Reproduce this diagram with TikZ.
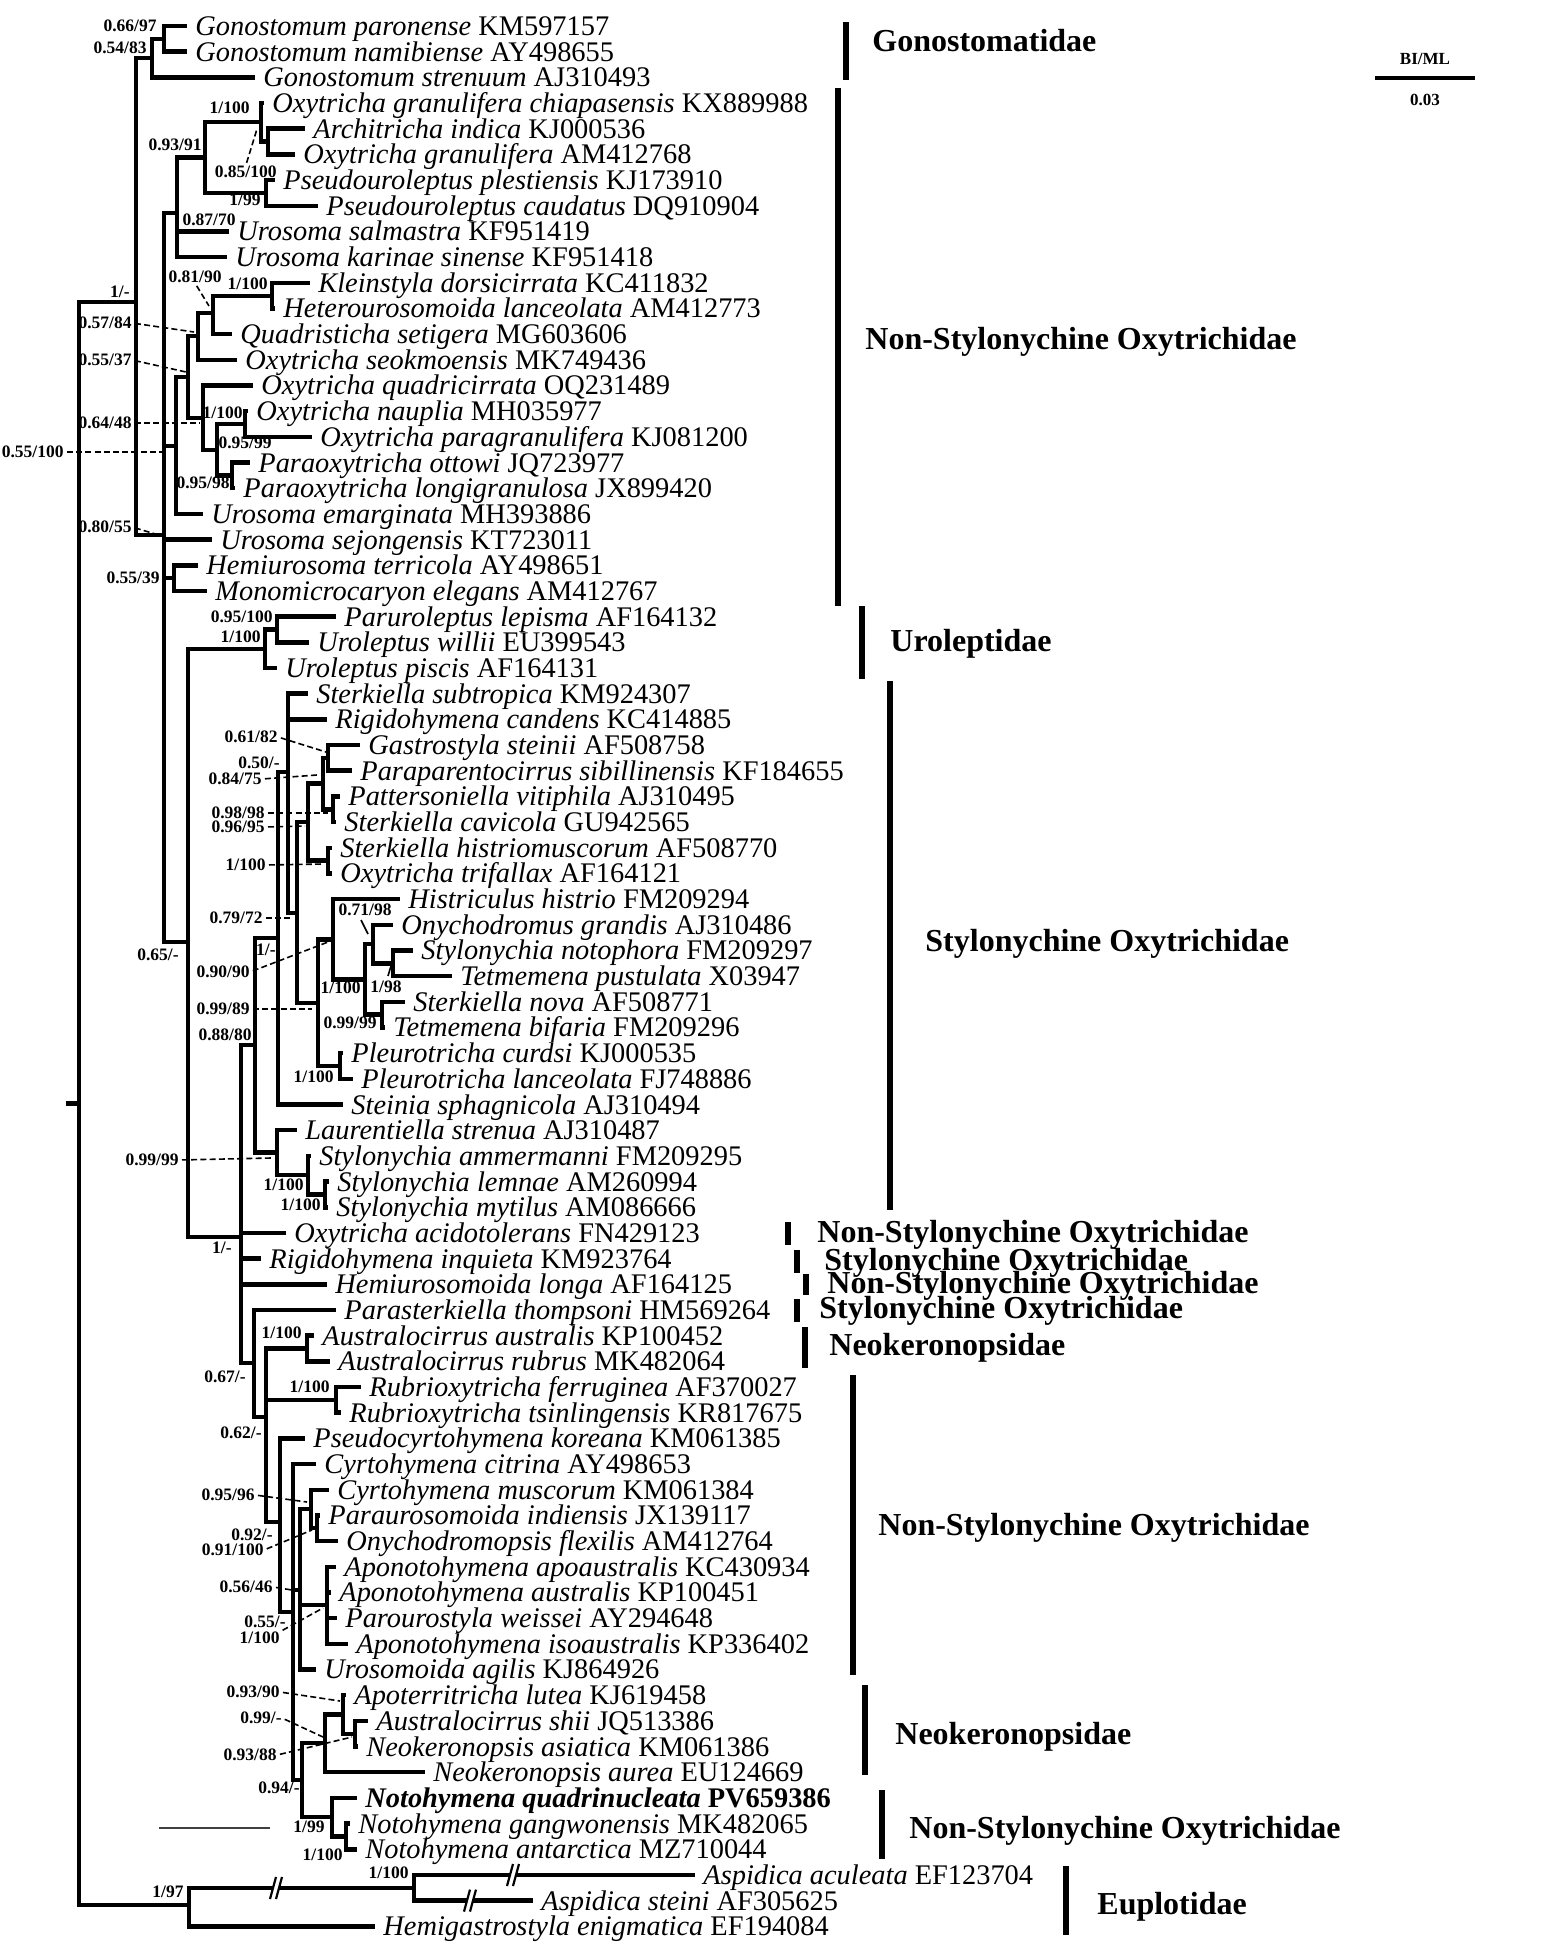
\documentclass[tikz,border=0pt]{standalone}
\usepackage{fontspec}
\setmainfont{Liberation Serif}
\tikzset{
  br/.style={line width=2.25pt},
  leaflab/.style={anchor=west, inner xsep=4pt, inner ysep=0pt, text height=9.4pt, text depth=0pt, font=\fontsize{14.2}{14.2}\selectfont},
  bs/.style={anchor=east, inner sep=0pt, text height=5.9pt, text depth=0pt, font=\fontsize{8.75}{9}\selectfont\bfseries},
  lead/.style={line width=0.8pt, dash pattern=on 3pt off 1.6pt, shorten <=1.5pt},
  tick/.style={line width=0.8pt},
  clbar/.style={line width=2.6pt},
  cllab/.style={anchor=west, inner sep=0pt, text height=10.6pt, text depth=0pt, font=\fontsize{16}{16}\selectfont\bfseries},
  sclab/.style={inner sep=0pt, font=\fontsize{8.5}{9}\selectfont\bfseries},
}
\newcommand\lfx[5]{\coordinate (#1) at (#2,#3); \node[leaflab] (#1L) at (#1) {\textit{#4} #5};}
\newcommand\brx[2]{\draw[br] (#1) |- (#2);}
\newcommand\brk[2]{%
  \fill[white] (#1-7,#2+11) -- (#1-1,#2-11) -- (#1+5,#2-11) -- (#1-1,#2+11) -- cycle;
  \draw[line width=1.1pt] (#1-7,#2+11) -- (#1-1,#2-11);
  \draw[line width=1.1pt] (#1-1,#2+11) -- (#1+5,#2-11);}
\begin{document}
\begin{tikzpicture}[x=0.5pt,y=-0.5pt]
\fill[white] (0,0) rectangle (1551,1959);
\useasboundingbox (0,0) rectangle (1551,1959);
% ---------- leaves ----------
\lfx{t1}{187}{26}{Gonostomum paronense}{KM597157}
\lfx{t2}{187}{51.7}{Gonostomum namibiense}{AY498655}
\lfx{t3}{255}{77.4}{Gonostomum strenuum}{AJ310493}
\lfx{t4}{264}{103}{Oxytricha granulifera chiapasensis}{KX889988}
\lfx{t5}{305}{128.7}{Architricha indica}{KJ000536}
\lfx{t6}{295}{154.4}{Oxytricha granulifera}{AM412768}
\lfx{t7}{275}{180.1}{Pseudouroleptus plestiensis}{KJ173910}
\lfx{t8}{318}{205.8}{Pseudouroleptus caudatus}{DQ910904}
\lfx{t9}{229}{231.4}{Urosoma salmastra}{KF951419}
\lfx{t10}{227}{257.1}{Urosoma karinae sinense}{KF951418}
\lfx{t11}{310}{282.8}{Kleinstyla dorsicirrata}{KC411832}
\lfx{t12}{275}{308.5}{Heterourosomoida lanceolata}{AM412773}
\lfx{t13}{232}{334.2}{Quadristicha setigera}{MG603606}
\lfx{t14}{237}{359.8}{Oxytricha seokmoensis}{MK749436}
\lfx{t15}{253}{385.5}{Oxytricha quadricirrata}{OQ231489}
\lfx{t16}{248}{411.2}{Oxytricha nauplia}{MH035977}
\lfx{t17}{312}{436.9}{Oxytricha paragranulifera}{KJ081200}
\lfx{t18}{250}{462.6}{Paraoxytricha ottowi}{JQ723977}
\lfx{t19}{235}{488.2}{Paraoxytricha longigranulosa}{JX899420}
\lfx{t20}{203}{513.9}{Urosoma emarginata}{MH393886}
\lfx{t21}{212}{539.6}{Urosoma sejongensis}{KT723011}
\lfx{t22}{198}{565.3}{Hemiurosoma terricola}{AY498651}
\lfx{t23}{207}{591}{Monomicrocaryon elegans}{AM412767}
\lfx{t24}{336}{616.6}{Paruroleptus lepisma}{AF164132}
\lfx{t25}{309}{642.3}{Uroleptus willii}{EU399543}
\lfx{t26}{277}{668}{Uroleptus piscis}{AF164131}
\lfx{t27}{308}{693.7}{Sterkiella subtropica}{KM924307}
\lfx{t28}{327}{719.4}{Rigidohymena candens}{KC414885}
\lfx{t29}{360}{745}{Gastrostyla steinii}{AF508758}
\lfx{t30}{352}{770.7}{Paraparentocirrus sibillinensis}{KF184655}
\lfx{t31}{340}{796.4}{Pattersoniella vitiphila}{AJ310495}
\lfx{t32}{336}{822.1}{Sterkiella cavicola}{GU942565}
\lfx{t33}{332}{847.8}{Sterkiella histriomuscorum}{AF508770}
\lfx{t34}{332}{873.4}{Oxytricha trifallax}{AF164121}
\lfx{t35}{400}{899.1}{Histriculus histrio}{FM209294}
\lfx{t36}{393}{924.8}{Onychodromus grandis}{AJ310486}
\lfx{t37}{413}{950.5}{Stylonychia notophora}{FM209297}
\lfx{t38}{452}{976.2}{Tetmemena pustulata}{X03947}
\lfx{t39}{405}{1001.8}{Sterkiella nova}{AF508771}
\lfx{t40}{385}{1027.5}{Tetmemena bifaria}{FM209296}
\lfx{t41}{343}{1053.2}{Pleurotricha curdsi}{KJ000535}
\lfx{t42}{353}{1078.9}{Pleurotricha lanceolata}{FJ748886}
\lfx{t43}{343}{1104.6}{Steinia sphagnicola}{AJ310494}
\lfx{t44}{297}{1130.2}{Laurentiella strenua}{AJ310487}
\lfx{t45}{311}{1155.9}{Stylonychia ammermanni}{FM209295}
\lfx{t46}{329}{1181.6}{Stylonychia lemnae}{AM260994}
\lfx{t47}{328}{1207.3}{Stylonychia mytilus}{AM086666}
\lfx{t48}{286}{1233}{Oxytricha acidotolerans}{FN429123}
\lfx{t49}{261}{1258.6}{Rigidohymena inquieta}{KM923764}
\lfx{t50}{327}{1284.3}{Hemiurosomoida longa}{AF164125}
\lfx{t51}{336}{1310}{Parasterkiella thompsoni}{HM569264}
\lfx{t52}{314}{1335.7}{Australocirrus australis}{KP100452}
\lfx{t53}{330}{1361.4}{Australocirrus rubrus}{MK482064}
\lfx{t54}{361}{1387}{Rubrioxytricha ferruginea}{AF370027}
\lfx{t55}{341}{1412.7}{Rubrioxytricha tsinlingensis}{KR817675}
\lfx{t56}{305}{1438.4}{Pseudocyrtohymena koreana}{KM061385}
\lfx{t57}{316}{1464.1}{Cyrtohymena citrina}{AY498653}
\lfx{t58}{329}{1489.8}{Cyrtohymena muscorum}{KM061384}
\lfx{t59}{320}{1515.4}{Paraurosomoida indiensis}{JX139117}
\lfx{t60}{338}{1541.1}{Onychodromopsis flexilis}{AM412764}
\lfx{t61}{336}{1566.8}{Aponotohymena apoaustralis}{KC430934}
\lfx{t62}{331}{1592.5}{Aponotohymena australis}{KP100451}
\lfx{t63}{337}{1618.2}{Parourostyla weissei}{AY294648}
\lfx{t64}{348}{1643.8}{Aponotohymena isoaustralis}{KP336402}
\lfx{t65}{316}{1669.5}{Urosomoida agilis}{KJ864926}
\lfx{t66}{346}{1695.2}{Apoterritricha lutea}{KJ619458}
\lfx{t67}{368}{1720.9}{Australocirrus shii}{JQ513386}
\lfx{t68}{358}{1746.6}{Neokeronopsis asiatica}{KM061386}
\lfx{t69}{425}{1772.2}{Neokeronopsis aurea}{EU124669}
\coordinate (t70) at (357,1797.9);
\node[leaflab] (t70L) at (t70) {\bfseries\itshape Notohymena quadrinucleata \upshape PV659386};
\lfx{t71}{350}{1823.6}{Notohymena gangwonensis}{MK482065}
\lfx{t72}{357}{1849.3}{Notohymena antarctica}{MZ710044}
\lfx{t73}{695}{1875}{Aspidica aculeata}{EF123704}
\lfx{t74}{533}{1900.6}{Aspidica steini}{AF305625}
\lfx{t75}{375}{1926.3}{Hemigastrostyla enigmatica}{EF194084}
% ---------- internal nodes ----------
\coordinate (rs) at (66,1103.5);
\coordinate (R0) at (79,1103.5);
\coordinate (I1) at (136,302);
\coordinate (G123) at (152,58);
\coordinate (G12) at (164,39);
\coordinate (H) at (164,535);
\coordinate (G) at (177,213);
\coordinate (F) at (205,157.5);
\coordinate (n4) at (261,122);
\coordinate (n56) at (268,141.5);
\coordinate (n78) at (266,193);
\coordinate (A) at (176,446);
\coordinate (B) at (188,377);
\coordinate (C) at (198,336);
\coordinate (D) at (213,313);
\coordinate (E) at (272,296);
\coordinate (X15) at (203,418);
\coordinate (n9599) at (217,450);
\coordinate (n16) at (245,424);
\coordinate (n9598) at (232,475.4);
\coordinate (N039) at (174,578);
\coordinate (L) at (188,942);
\coordinate (UR) at (265,649);
\coordinate (U95) at (277,629.5);
\coordinate (M) at (241,1237);
\coordinate (N) at (255,1045);
\coordinate (nb) at (278,938);
\coordinate (na) at (288,772);
\coordinate (nc) at (297,913);
\coordinate (nd) at (308,822);
\coordinate (ne) at (323,783.6);
\coordinate (ng) at (328,757.9);
\coordinate (nh) at (333,809.3);
\coordinate (nf) at (328,860.6);
\coordinate (nz) at (318,1003);
\coordinate (nep) at (333,939.6);
\coordinate (neta) at (340,1066);
\coordinate (nde) at (365,979.5);
\coordinate (nbe) at (373,944);
\coordinate (nal) at (393,963.3);
\coordinate (nga) at (382,1014.7);
\coordinate (nio) at (277,1152.6);
\coordinate (nka) at (308,1175);
\coordinate (nla) at (325,1194.5);
\coordinate (P) at (254,1363);
\coordinate (Q) at (266,1417);
\coordinate (Au) at (307,1348.5);
\coordinate (Ru) at (336,1400);
\coordinate (R) at (280,1522);
\coordinate (S) at (293,1612);
\coordinate (U) at (300,1590);
\coordinate (W) at (311,1509);
\coordinate (W2) at (317,1528);
\coordinate (V) at (327,1605);
\coordinate (T) at (302,1780);
\coordinate (X) at (325,1743);
\coordinate (Y) at (343,1714.5);
\coordinate (Z) at (355,1733.8);
\coordinate (NO) at (332,1817);
\coordinate (NO2) at (346,1836.5);
\coordinate (EU) at (189,1905);
\coordinate (AS) at (414,1888);
% ---------- branches ----------
\draw[br] (rs) -- (R0);
\brx{R0}{I1} \brx{R0}{EU}
\brx{I1}{G123} \brx{I1}{H}
\brx{G123}{G12} \brx{G123}{t3}
\brx{G12}{t1} \brx{G12}{t2}
\brx{H}{G} \brx{H}{A} \brx{H}{t21} \brx{H}{N039} \brx{H}{L}
\brx{G}{F} \brx{G}{t9} \brx{G}{t10}
\brx{F}{n4} \brx{F}{n78}
\brx{n4}{t4} \brx{n4}{n56}
\brx{n56}{t5} \brx{n56}{t6}
\brx{n78}{t7} \brx{n78}{t8}
\brx{A}{B} \brx{A}{t20}
\brx{B}{C} \brx{B}{X15}
\brx{C}{D} \brx{C}{t14}
\brx{D}{E} \brx{D}{t13}
\brx{E}{t11} \brx{E}{t12}
\brx{X15}{t15} \brx{X15}{n9599}
\brx{n9599}{n16} \brx{n9599}{n9598}
\brx{n16}{t16} \brx{n16}{t17}
\brx{n9598}{t18} \brx{n9598}{t19}
\brx{N039}{t22} \brx{N039}{t23}
\brx{L}{UR} \brx{L}{M}
\brx{UR}{U95} \brx{UR}{t26}
\brx{U95}{t24} \brx{U95}{t25}
\brx{M}{N} \brx{M}{t48} \brx{M}{t49} \brx{M}{t50} \brx{M}{P}
\brx{N}{nb} \brx{N}{nio}
\brx{nb}{na} \brx{nb}{t43}
\brx{na}{t27} \brx{na}{t28} \brx{na}{nc}
\brx{nc}{nd} \brx{nc}{nz}
\brx{nd}{ne} \brx{nd}{nf}
\brx{ne}{ng} \brx{ne}{nh}
\brx{ng}{t29} \brx{ng}{t30}
\brx{nh}{t31} \brx{nh}{t32}
\brx{nf}{t33} \brx{nf}{t34}
\brx{nz}{nep} \brx{nz}{neta}
\brx{nep}{t35} \brx{nep}{nde}
\brx{nde}{nbe} \brx{nde}{nga}
\brx{nbe}{t36} \brx{nbe}{nal}
\brx{nal}{t37} \brx{nal}{t38}
\brx{nga}{t39} \brx{nga}{t40}
\brx{neta}{t41} \brx{neta}{t42}
\brx{nio}{t44} \brx{nio}{nka}
\brx{nka}{t45} \brx{nka}{nla}
\brx{nla}{t46} \brx{nla}{t47}
\brx{P}{t51} \brx{P}{Q}
\brx{Q}{Au} \brx{Q}{Ru} \brx{Q}{R}
\brx{Au}{t52} \brx{Au}{t53}
\brx{Ru}{t54} \brx{Ru}{t55}
\brx{R}{t56} \brx{R}{S}
\brx{S}{t57} \brx{S}{U} \brx{S}{T}
\brx{U}{W} \brx{U}{V} \brx{U}{t65}
\brx{W}{t58} \brx{W}{W2}
\brx{W2}{t59} \brx{W2}{t60}
\brx{V}{t61} \brx{V}{t62} \brx{V}{t63} \brx{V}{t64}
\brx{T}{X} \brx{T}{NO}
\brx{X}{Y} \brx{X}{t69}
\brx{Y}{t66} \brx{Y}{Z}
\brx{Z}{t67} \brx{Z}{t68}
\brx{NO}{t70} \brx{NO}{NO2}
\brx{NO2}{t71} \brx{NO2}{t72}
\brx{EU}{AS} \brx{EU}{t75}
\brx{AS}{t73} \brx{AS}{t74}
\brk{277}{1888}
\brk{514}{1875}
\brk{471}{1900.6}
% ---------- support values ----------
\node[bs] (s1) at (157,26) {0.66/97};
\node[bs] (s2) at (147,48) {0.54/83};
\node[bs] (s3) at (250,108) {1/100};
\node[bs] (s4) at (277,172) {0.85/100};
\node[bs] (s5) at (202,145) {0.93/91};
\node[bs] (s6) at (236,220) {0.87/70};
\node[bs] (s7) at (261,200) {1/99};
\node[bs] (s8) at (222,277) {0.81/90};
\node[bs] (s9) at (268,284) {1/100};
\node[bs] (s10) at (130,292) {1/-};
\node[bs] (s11) at (132,323) {0.57/84};
\node[bs] (s12) at (132,360) {0.55/37};
\node[bs] (s13) at (132,423) {0.64/48};
\node[bs] (s14) at (243,413) {1/100};
\node[bs] (s15) at (272,443) {0.95/99};
\node[bs] (s16) at (230,483) {0.95/98};
\node[bs] (s17) at (64,452) {0.55/100};
\node[bs] (s18) at (132,527) {0.80/55};
\node[bs] (s19) at (160,578) {0.55/39};
\node[bs] (s20) at (273,617) {0.95/100};
\node[bs] (s21) at (261,637) {1/100};
\node[bs] (s22) at (179,955) {0.65/-};
\node[bs] (s23) at (278,737) {0.61/82};
\node[bs] (s24) at (280,763) {0.50/-};
\node[bs] (s25) at (262,779) {0.84/75};
\node[bs] (s26) at (265,813) {0.98/98};
\node[bs] (s27) at (265,827) {0.96/95};
\node[bs] (s28) at (266,865) {1/100};
\node[bs] (s29) at (263,918) {0.79/72};
\node[bs] (s30) at (392,910) {0.71/98};
\node[bs] (s31) at (276,950) {1/-};
\node[bs] (s32) at (250,972) {0.90/90};
\node[bs] (s33) at (361,988) {1/100};
\node[bs] (s34) at (402,987) {1/98};
\node[bs] (s35) at (377,1023) {0.99/99};
\node[bs] (s36) at (250,1009) {0.99/89};
\node[bs] (s37) at (252,1035) {0.88/80};
\node[bs] (s38) at (334,1077) {1/100};
\node[bs] (s39) at (179,1160) {0.99/99};
\node[bs] (s40) at (304,1185) {1/100};
\node[bs] (s41) at (321,1205) {1/100};
\node[bs] (s42) at (232,1248) {1/-};
\node[bs] (s43) at (246,1377) {0.67/-};
\node[bs] (s44) at (302,1333) {1/100};
\node[bs] (s45) at (330,1387) {1/100};
\node[bs] (s46) at (262,1433) {0.62/-};
\node[bs] (s47) at (255,1495) {0.95/96};
\node[bs] (s48) at (273,1535) {0.92/-};
\node[bs] (s49) at (264,1550) {0.91/100};
\node[bs] (s50) at (273,1587) {0.56/46};
\node[bs] (s51) at (286,1622) {0.55/-};
\node[bs] (s52) at (280,1638) {1/100};
\node[bs] (s53) at (280,1692) {0.93/90};
\node[bs] (s54) at (282,1718) {0.99/-};
\node[bs] (s55) at (277,1755) {0.93/88};
\node[bs] (s56) at (300,1788) {0.94/-};
\node[bs] (s57) at (325,1827) {1/99};
\node[bs] (s58) at (343,1855) {1/100};
\node[bs] (s59) at (184,1892) {1/97};
\node[bs] (s60) at (409,1873) {1/100};
% ---------- leader lines ----------
\coordinate (e4) at (257,129);   \draw[lead] (s4.north) -- (e4);
\coordinate (e8) at (209,306);   \draw[lead] (s8.south) -- (e8);
\coordinate (e11) at (194,332);  \draw[lead] (s11.east) -- (e11);
\coordinate (e12) at (186,372);  \draw[lead] (s12.east) -- (e12);
\coordinate (e13) at (200,423);  \draw[lead] (s13.east) -- (e13);
\coordinate (e17) at (163,452);  \draw[lead] (s17.east) -- (e17);
\coordinate (e18) at (162,536);  \draw[lead] (s18.east) -- (e18);
\coordinate (e23) at (326,752);  \draw[lead] (s23.east) -- (e23);
\coordinate (e25) at (317,775);  \draw[lead] (s25.east) -- (e25);
\coordinate (e26) at (328,813);  \draw[lead] (s26.east) -- (e26);
\coordinate (e27) at (305,826);  \draw[lead] (s27.east) -- (e27);
\coordinate (e28) at (323,864);  \draw[lead] (s28.east) -- (e28);
\coordinate (e29) at (292,918);  \draw[lead] (s29.east) -- (e29);
\coordinate (e32) at (328,942);  \draw[lead] (s32.east) -- (e32);
\coordinate (e36) at (312,1009); \draw[lead] (s36.east) -- (e36);
\coordinate (e39) at (271,1158); \draw[lead] (s39.east) -- (e39);
\coordinate (e47) at (307,1502); \draw[lead] (s47.east) -- (e47);
\coordinate (e49) at (312,1530); \draw[lead] (s49.east) -- (e49);
\coordinate (e50) at (292,1590); \draw[lead] (s50.east) -- (e50);
\coordinate (e52) at (323,1608); \draw[lead] (s52.north east) -- (e52);
\coordinate (e53) at (340,1701); \draw[lead] (s53.east) -- (e53);
\coordinate (e54) at (323,1737); \draw[lead] (s54.east) -- (e54);
\coordinate (e55) at (352,1737); \draw[lead] (s55.east) -- (e55);
\coordinate (e30a) at (361,920); \coordinate (e30b) at (368,934); \draw[tick] (e30a) -- (e30b);
\coordinate (e34a) at (388,976); \coordinate (e34b) at (391,966); \draw[tick] (e34a) -- (e34b);
% ---------- stray scale line ----------
\coordinate (sl1) at (159,1828); \coordinate (sl2) at (270,1828);
\draw[line width=0.8pt, black!75] (sl1) -- (sl2);
% ---------- clade bars ----------
\draw[clbar] (846,22) -- (846,80);     \node[cllab] (c1) at (872,41) {Gonostomatidae};
\draw[clbar] (838,88) -- (838,606);    \node[cllab] (c2) at (865,339) {Non-Stylonychine Oxytrichidae};
\draw[clbar] (862,606) -- (862,679);   \node[cllab] (c3) at (890,641) {Uroleptidae};
\draw[clbar] (890,681) -- (890,1210);  \node[cllab] (c4) at (925,941) {Stylonychine Oxytrichidae};
\draw[clbar] (788,1222) -- (788,1245); \node[cllab] (c5) at (817,1232) {Non-Stylonychine Oxytrichidae};
\draw[clbar] (797,1250) -- (797,1273); \node[cllab] (c6) at (824,1260) {Stylonychine Oxytrichidae};
\draw[clbar] (806,1274) -- (806,1295); \node[cllab] (c7) at (827,1283) {Non-Stylonychine Oxytrichidae};
\draw[clbar] (797,1299) -- (797,1322); \node[cllab] (c8) at (819,1308) {Stylonychine Oxytrichidae};
\draw[clbar] (805,1327) -- (805,1368); \node[cllab] (c9) at (829,1345) {Neokeronopsidae};
\draw[clbar] (853,1375) -- (853,1675); \node[cllab] (c10) at (878,1525) {Non-Stylonychine Oxytrichidae};
\draw[clbar] (865,1685) -- (865,1775); \node[cllab] (c11) at (895,1734) {Neokeronopsidae};
\draw[clbar] (882,1790) -- (882,1859); \node[cllab] (c12) at (909,1828) {Non-Stylonychine Oxytrichidae};
\draw[clbar] (1066,1866) -- (1066,1935); \node[cllab] (c13) at (1097,1904) {Euplotidae};
% ---------- scale ----------
\node[sclab] (bml) at (1425,59) {BI/ML};
\coordinate (sc1) at (1375,78); \coordinate (sc2) at (1475,78);
\draw[line width=1.6pt] (sc1) -- (sc2);
\node[sclab] (s003) at (1425,100) {0.03};
\end{tikzpicture}
\end{document}
